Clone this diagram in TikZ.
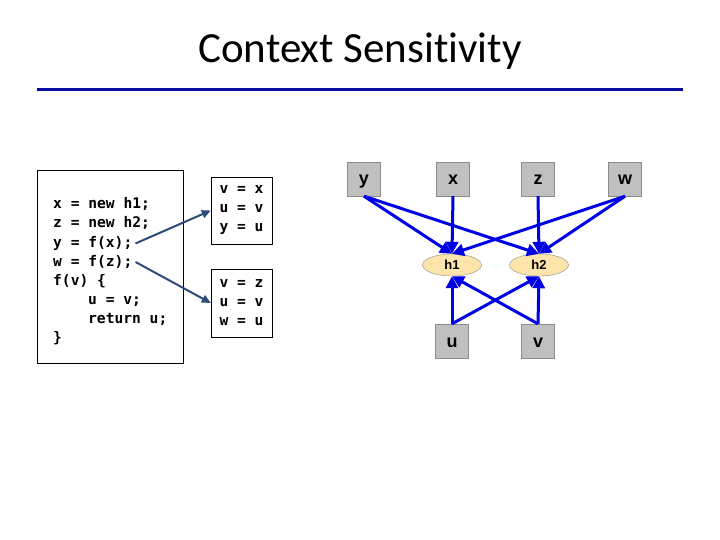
\documentclass[tikz,border=0pt]{standalone}
\usepackage{fontspec}
\setmainfont{Carlito}[Ligatures={NoCommon}]
\setsansfont{Liberation Sans}
\setmonofont{DejaVu Sans Mono}
\usepackage{tikz}
\usetikzlibrary{positioning,arrows.meta,shapes.geometric}
\definecolor{rulecol}{RGB}{10,10,160}
\definecolor{bind}{RGB}{45,75,120}
\definecolor{pts}{RGB}{0,0,230}
\definecolor{varfill}{RGB}{192,192,192}
\definecolor{varline}{RGB}{140,140,140}
\definecolor{heapfill}{RGB}{252,228,170}

\begin{document}
\begin{tikzpicture}[x=1pt, y=-1pt,
    code/.style={anchor=base west, inner sep=0pt, font=\ttfamily\bfseries\fontsize{14.6}{19}\selectfont},
    frame/.style={draw, inner sep=0pt, align=left, font=\ttfamily\bfseries\fontsize{14.6}{19}\selectfont},
    var/.style={draw=varline, fill=varfill, minimum width=33pt, minimum height=34pt, inner sep=0pt, text height=12pt, text depth=0pt, font=\sffamily\bfseries\fontsize{18}{20}\selectfont},
    heap/.style={ellipse, draw=varline, fill=heapfill, minimum width=59pt, minimum height=22pt, inner sep=0pt, font=\sffamily\bfseries\fontsize{13}{15}\selectfont},
    bindarrow/.style={-{Triangle[length=9pt,width=8pt]}, draw=bind, line width=2pt},
    ptsto/.style={-{Triangle[length=12pt,width=12pt]}, draw=pts, line width=3pt}
]
    \useasboundingbox (0,0) rectangle (720,540);

    % Title
    \node[anchor=base, font=\fontsize{43}{50}\selectfont] (title) at (360,63) {Context Sensitivity};
    \draw[rulecol, line width=3pt] (37,90) -- (683,90);

    % Program
    \node[frame, minimum width=146pt, minimum height=193pt] (prog) at (110,266.5) {};
    \node[code] (c1) at (53,209) {x = new h1;};
    \node[code] (c2) at (53,228) {z = new h2;};
    \node[code] (c3) at (53,247.5) {y = f(x);};
    \node[code] (c4) at (53,266.5) {w = f(z);};
    \node[code] (c5) at (53,285.5) {f(v) \{};
    \node[code] (c6) at (88,304.5) {u = v;};
    \node[code] (c7) at (88,323.5) {return u;};
    \node[code] (c8) at (53,342.5) {\}};

    % Bindings per call
    \node[frame, minimum width=61pt, minimum height=67pt] (call1) at (241.5,210.5) {v = x\\u = v\\y = u};
    \node[frame, minimum width=61pt, minimum height=68pt] (call2) at (241.5,303) {v = z\\u = v\\w = u};

    \draw[bindarrow] ([xshift=3pt]c3.east) -- (call1.west);
    \draw[bindarrow] ([xshift=3pt]c4.east) -- (call2.west);

    % Points-to graph
    \node[var] (y) at (364,179) {y};
    \node[var] (x) at (453,179) {x};
    \node[var] (z) at (538,179) {z};
    \node[var] (w) at (625,179) {w};
    \node[heap] (h1) at (452,265) {h1};
    \node[heap] (h2) at (539,265) {h2};
    \node[var] (u) at (452,341) {u};
    \node[var] (v) at (538,341) {v};

    \foreach \s/\t in {y/h1, y/h2, x/h1, z/h2, w/h1, w/h2}
        \draw[ptsto] (\s.south) -- (\t.north);
    \foreach \s in {u, v}
        \foreach \t in {h1, h2}
            \draw[ptsto] (\s.north) -- (\t.south);
\end{tikzpicture}
\end{document}
